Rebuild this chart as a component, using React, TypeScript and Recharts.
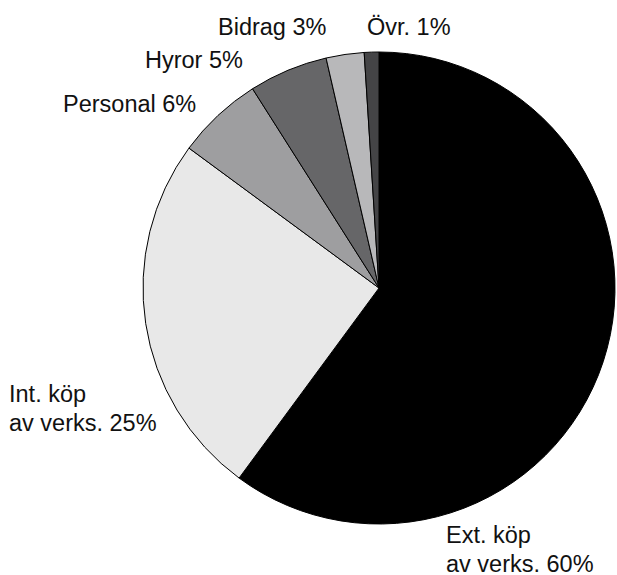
import { Cell, Pie, PieChart } from "recharts";

// Kostnadsfördelning, andel i procent
const categories = ["Ext. köp av verks.", "Int. köp av verks.", "Personal", "Hyror", "Bidrag", "Övr."];
const shares = [60.1, 25.0, 5.9, 5.4, 2.6, 1.0];
const labelLines = [
  ["Ext. köp", "av verks. 60%"],
  ["Int. köp", "av verks. 25%"],
  ["Personal 6%"],
  ["Hyror 5%"],
  ["Bidrag 3%"],
  ["Övr. 1%"],
];

const colors = ["#000000", "#e8e8e8", "#9e9ea0", "#666668", "#b8b8ba", "#444446"];

// label anchor (left edge, first baseline) relative to the pie centre
const labelOffsets = [
  { dx: 67, dy: 255 },
  { dx: -370, dy: 114 },
  { dx: -316, dy: -176 },
  { dx: -234, dy: -220 },
  { dx: -161, dy: -253 },
  { dx: -12, dy: -253 },
];

const data = categories.map((name, i) => ({ name, value: shares[i] }));

const FONT = "'Liberation Sans', Arial, sans-serif";

function renderLabel(props: any) {
  const { cx, cy, index } = props;
  const off = labelOffsets[index];
  const x = cx + off.dx;
  const y = cy + off.dy;
  return (
    <text
      key={`lbl-${index}`}
      x={x}
      y={y}
      fill="#111"
      fontSize={23.5}
      fontFamily={FONT}
      textAnchor="start"
    >
      {labelLines[index].map((line, j) => (
        <tspan key={j} x={x} dy={j === 0 ? 0 : 29}>
          {line}
        </tspan>
      ))}
    </text>
  );
}

export default function App() {
  return (
    <div style={{ position: "absolute", left: 0, top: 0, width: 617, height: 575, background: "#fff" }}>
      <PieChart width={617} height={575} margin={{ top: 0, right: 0, bottom: 0, left: 0 }}>
        <Pie
          data={data}
          dataKey="value"
          nameKey="name"
          cx={379}
          cy={288}
          outerRadius={236}
          startAngle={90}
          endAngle={-270}
          stroke="#000"
          strokeWidth={1}
          label={renderLabel}
          labelLine={false}
          isAnimationActive={false}
        >
          {data.map((d, i) => (
            <Cell key={d.name} fill={colors[i]} />
          ))}
        </Pie>
      </PieChart>
    </div>
  );
}
